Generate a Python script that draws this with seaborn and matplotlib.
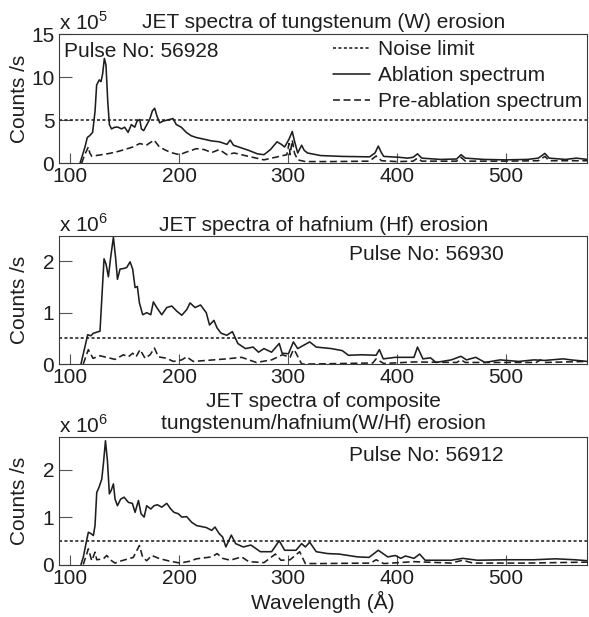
import matplotlib
matplotlib.use("Agg")
import matplotlib.pyplot as plt
import numpy as np
import pandas as pd
import seaborn as sns

# ---------------- data (wavelength in Angstrom, counts in panel units) ----------------
titles = [["JET spectra of tungstenum (W) erosion"],
          ["JET spectra of hafnium (Hf) erosion"],
          ["JET spectra of composite", "tungstenum/hafnium(W/Hf) erosion"]]
pulse_labels = ["Pulse No: 56928", "Pulse No: 56930", "Pulse No: 56912"]
scale_exponents = ["5", "6", "6"]
noise_limits = [5.0, 0.5, 0.5]
y_limits = [15.0, 2.5, 2.7]
y_ticks = [[0, 5, 10, 15], [0, 1, 2], [0, 1, 2]]
x_ticks = [100, 200, 300, 400, 500]
legend_labels = ["Noise limit", "Ablation spectrum", "Pre-ablation spectrum"]

# Panel 1: tungsten (x 1e5 counts/s)
w_abl_W = [109, 113.6, 115.7, 117.8, 120.6, 122.8, 124.3, 126.7, 128.3, 129.8, 131.4, 132.9, 134.5, 136,
           138, 141, 144, 147.1, 150, 153.2, 156.2, 159.3, 161.4, 163.9, 165.4, 167.5, 170, 173, 175.5,
           177.6, 179.7, 182.2, 185.2, 188.3, 191.3, 194.4, 197.5, 202, 206.6, 211.2, 215.8, 223, 230, 237,
           244, 247, 250, 264, 272, 278, 284, 290, 294, 297, 301, 304, 306, 309, 312.6, 315, 318, 330, 350,
           375, 380, 383, 386, 388, 402, 410, 415, 419, 423, 440, 455, 459, 463, 480, 500, 520, 530, 536,
           540, 555, 565, 575]
c_abl_W = [0, 1.9, 3.0, 3.2, 3.6, 6.0, 9.1, 9.7, 9.5, 10.4, 12.2, 11.4, 7.2, 4.5,
           4.0, 4.2, 4.2, 4.0, 4.2, 3.6, 4.5, 4.2, 4.9, 5.1, 4.0, 3.8, 4.4, 5.1, 6.1,
           6.4, 5.5, 4.7, 4.9, 5.0, 5.1, 5.2, 4.5, 4.2, 3.6, 3.2, 3.0, 2.8, 2.6, 2.5,
           2.2, 2.7, 2.1, 1.5, 1.1, 1.0, 1.6, 2.5, 2.2, 1.9, 2.8, 3.7, 2.6, 1.2, 2.1, 1.5, 1.2, 0.9, 0.8,
           0.75, 1.2, 2.0, 1.2, 0.8, 0.7, 0.6, 0.7, 1.1, 0.6, 0.45, 0.5, 1.0, 0.6, 0.45, 0.4, 0.45, 0.6, 1.15,
           0.6, 0.45, 0.6, 0.45]
w_pre_W = [110.5, 113, 116.7, 118, 119.8, 126.4, 134, 141.7, 150, 157.7, 163.9, 170, 177, 182, 188, 194,
           200.5, 206.6, 215.8, 223, 230, 237, 244, 250.6, 264, 278, 292, 299, 301, 302, 304, 306, 309,
           316, 340, 375, 381, 386, 400, 415, 419, 423, 455, 459, 463, 500, 530, 536, 540, 575]
c_pre_W = [0, 0.9, 1.9, 1.2, 0.83, 0.95, 1.1, 1.3, 1.6, 1.9, 2.3, 2.1, 2.7, 1.9, 1.5, 1.2,
           1.0, 1.3, 1.7, 1.6, 1.25, 1.6, 1.0, 1.2, 0.8, 0.4, 0.8, 1.0, 2.3, 1.0, 2.7, 1.2, 0.4,
           0.2, 0.2, 0.25, 0.85, 0.3, 0.2, 0.25, 0.6, 0.25, 0.25, 0.7, 0.25, 0.25, 0.3, 0.8, 0.3, 0.3]

# Panel 2: hafnium (x 1e6 counts/s)
w_abl_Hf = [109.9, 113.6, 116.1, 118.9, 121.3, 124.4, 127.4, 129, 131.1, 132.9, 135.1, 137.2, 139.7, 141.8,
            143.4, 145.8, 148.9, 151.9, 155, 157.4, 159.6, 161.7, 163.6, 166.6, 170.3, 174, 176.4, 179.5,
            184.1, 188.7, 193.3, 197.9, 202.5, 207.1, 210.1, 214.7, 219.7, 225, 228, 232, 235, 238.6,
            243.8, 249, 254, 261, 268, 273, 278, 285, 292, 294.7, 300.5, 305, 309, 314, 320, 326, 340,
            350, 355.6, 367.6, 381, 384, 387.6, 398.6, 415.8, 419, 424, 431, 436, 450, 459, 464, 472.5,
            481, 495, 512, 526, 536, 553, 560, 575]
c_abl_Hf = [0, 0.34, 0.57, 0.55, 0.60, 0.62, 0.64, 1.26, 2.05, 1.95, 1.70, 2.08, 2.47, 2.05,
            1.65, 1.85, 1.86, 1.88, 1.99, 1.85, 1.49, 1.51, 1.19, 0.96, 1.0, 0.96, 1.21, 1.1,
            0.96, 1.1, 1.13, 1.03, 0.95, 1.06, 1.19, 1.1, 1.15, 1.0, 0.76, 0.85, 0.7, 0.6,
            0.56, 0.63, 0.4, 0.3, 0.33, 0.23, 0.3, 0.23, 0.4, 0.21, 0.2, 0.43, 0.3, 0.36, 0.43, 0.33, 0.3,
            0.26, 0.17, 0.18, 0.17, 0.28, 0.1, 0.13, 0.13, 0.33, 0.1, 0.12, 0.03, 0.08, 0.15, 0.08, 0.13,
            0.03, 0.08, 0.05, 0.08, 0.07, 0.1, 0.08, 0.05]
w_pre_Hf = [112, 116.7, 121, 127.4, 133.5, 141.2, 148.9, 153.5, 157.4, 160.5, 164.2, 168.8, 173.4, 177.4,
            181, 188.7, 194.8, 202.5, 207, 213, 243.8, 257.5, 271, 285, 295, 302, 305, 307, 312.6, 322.9,
            378, 381, 388, 415.8, 455, 459, 463, 528, 532, 536, 575]
c_pre_Hf = [0, 0.28, 0.11, 0.16, 0.13, 0.09, 0.18, 0.14, 0.21, 0.14, 0.28, 0.11, 0.18, 0.31,
            0.14, 0.11, 0.05, 0.08, 0.14, 0.05, 0.1, 0.13, 0.03, 0.08, 0.18, 0.13, 0.28, 0.23, 0.0, 0.0,
            0.02, 0.1, 0.01, 0.04, 0.03, 0.08, 0.03, 0.03, 0.08, 0.03, 0.05]

# Panel 3: composite W/Hf (x 1e6 counts/s)
w_abl_WHf = [109.9, 112, 114.5, 116.7, 119.2, 121.3, 122.8, 124.4, 126.5, 129, 130.5, 132.4, 134.2, 136,
             137.6, 139.7, 141.2, 143.4, 146.4, 149.5, 153.5, 157.1, 159.6, 162.7, 165.1, 167.9, 170.3,
             174, 177, 180.1, 184.1, 188.7, 192.4, 195.4, 199.4, 202.5, 207, 211.6, 216.2, 225, 230, 233,
             236.9, 240, 243, 248, 252, 259, 266, 274.7, 285, 292, 297, 307.4, 312.6, 316, 320, 326,
             336.6, 347, 364, 374.5, 383, 391.7, 398.6, 403.7, 408, 415.8, 421, 426, 450, 460.5, 474,
             501.8, 526, 546, 563.7, 575]
c_abl_WHf = [0, 0.15, 0.44, 0.68, 0.65, 0.61, 0.82, 1.52, 1.63, 1.8, 2.12, 2.61, 2.19, 1.49,
             1.56, 1.7, 1.38, 1.24, 1.38, 1.42, 1.31, 1.29, 1.1, 1.35, 1.07, 1.0, 1.24,
             1.17, 1.24, 1.26, 1.21, 1.29, 1.17, 1.1, 1.07, 1.0, 1.01, 0.89, 0.82, 0.78, 0.72, 0.79,
             0.65, 0.58, 0.37, 0.62, 0.44, 0.37, 0.41, 0.27, 0.27, 0.5, 0.3, 0.3, 0.44, 0.37, 0.47, 0.27,
             0.23, 0.22, 0.16, 0.15, 0.3, 0.16, 0.19, 0.13, 0.18, 0.13, 0.22, 0.09, 0.09, 0.13, 0.09,
             0.1, 0.1, 0.12, 0.1, 0.08]
w_pre_WHf = [112, 116.7, 119.8, 122.8, 124.4, 130.5, 133.5, 138, 141.2, 147.3, 153.5, 158, 161.1, 163.6,
             166.6, 170.3, 174.9, 182.5, 191.7, 200.9, 210, 216, 230, 235, 240, 247, 257.5, 264, 278,
             288.5, 293.6, 302, 310.8, 316, 329.8, 376, 381, 388, 416, 450, 460.5, 470, 519, 575]
c_pre_WHf = [0, 0.33, 0.08, 0.26, 0.1, 0.12, 0.19, 0.08, 0.03, 0.08, 0.12, 0.15, 0.29, 0.4,
             0.15, 0.08, 0.19, 0.12, 0.07, 0.03, 0.07, 0.12, 0.16, 0.23, 0.13, 0.09, 0.16, 0.06, 0.04,
             0.22, 0.09, 0.1, 0.27, 0.02, 0.02, 0.03, 0.1, 0.02, 0.06, 0.03, 0.09, 0.03, 0.03, 0.05]

abl_w = [w_abl_W, w_abl_Hf, w_abl_WHf]
abl_c = [c_abl_W, c_abl_Hf, c_abl_WHf]
pre_w = [w_pre_W, w_pre_Hf, w_pre_WHf]
pre_c = [c_pre_W, c_pre_Hf, c_pre_WHf]

# ---------------- style ----------------
sns.set_style("ticks")
plt.rcParams["font.family"] = ["Liberation Sans", "DejaVu Sans"]
plt.rcParams["mathtext.fontset"] = "custom"
plt.rcParams["mathtext.rm"] = "Liberation Sans"
plt.rcParams["lines.scale_dashes"] = False

INK = "#1e1e1e"
FRAME = "#3a3a3a"
FS = 15
LW = 1.15
NOISE_DASH = (0, (2.2, 1.7))
PRE_DASH = (0, (5.0, 2.6))

W, H = 589, 617
fig = plt.figure(figsize=(W / 100, H / 100), dpi=100)

# axes boxes in pixels: left, top, right, bottom
boxes = [(59.3, 34.3, 587.3, 163.3), (59.3, 235.7, 587.3, 364.0), (59.3, 436.5, 587.3, 564.5)]
title_baselines = [[28.3], [230.7], [406.7, 429.3]]
exp_baselines = [30.0, 231.7, 432.7]
pulse_pos = [(64.3, 56.7), (349.3, 260.0), (349.3, 460.7)]

XMIN, XMAX = 90, 575

for i, (l, t, r, b) in enumerate(boxes):
    ax = fig.add_axes([l / W, 1 - b / H, (r - l) / W, (b - t) / H])
    df_abl = pd.DataFrame({"w": abl_w[i], "c": abl_c[i]})
    df_pre = pd.DataFrame({"w": pre_w[i], "c": pre_c[i]})
    noise = ax.axhline(noise_limits[i], color=INK, lw=LW, linestyle=NOISE_DASH, label=legend_labels[0])
    sns.lineplot(data=df_abl, x="w", y="c", ax=ax, sort=False, estimator=None,
                 color=INK, lw=LW, label=legend_labels[1], legend=False)
    sns.lineplot(data=df_pre, x="w", y="c", ax=ax, sort=False, estimator=None,
                 color=INK, lw=LW, linestyle=PRE_DASH, label=legend_labels[2], legend=False)

    ax.set_xlim(XMIN, XMAX)
    ax.set_ylim(0, y_limits[i])
    ax.set_xticks(x_ticks)
    ax.set_yticks(y_ticks[i])
    ax.tick_params(axis="x", direction="in", length=7.5, width=0.8, color="#555555",
                   labelsize=FS, labelcolor=INK, pad=3)
    ax.tick_params(axis="y", direction="in", length=9, width=0.8, color="#555555",
                   labelsize=FS, labelcolor=INK, pad=3.6)
    for s in ax.spines.values():
        s.set_visible(True)
        s.set_color(FRAME)
        s.set_linewidth(0.8)
    ax.set_xlabel("")
    ax.set_ylabel("Counts /s", fontsize=FS, color=INK)
    ax.yaxis.set_label_coords(-0.057, 0.5)

    for line_text, yb in zip(titles[i], title_baselines[i]):
        fig.text(323.3 / W, 1 - yb / H, line_text, ha="center", va="baseline", fontsize=FS, color=INK)
    fig.text(59.3 / W, 1 - exp_baselines[i] / H, r"x 10$^{\mathregular{%s}}$" % scale_exponents[i],
             ha="left", va="baseline", fontsize=FS, color=INK)
    px, py = pulse_pos[i]
    fig.text(px / W, 1 - py / H, pulse_labels[i], ha="left", va="baseline", fontsize=FS, color=INK)

    if i == 0:
        handles = ax.get_lines()
        h_noise = [h for h in handles if h.get_label() == legend_labels[0]][0]
        h_abl = [h for h in handles if h.get_label() == legend_labels[1]][0]
        h_pre = [h for h in handles if h.get_label() == legend_labels[2]][0]
        ax.legend(handles=[h_noise, h_abl, h_pre], labels=legend_labels, loc="upper left",
                  bbox_to_anchor=(0.518, 0.955), frameon=False, fontsize=FS,
                  handlelength=1.8, handletextpad=0.36, labelspacing=0.34, borderpad=0,
                  borderaxespad=0, labelcolor=INK)
    if i == 2:
        ax.set_xlabel("Wavelength (Å)", fontsize=FS, color=INK, labelpad=2)

fig.savefig("out.png", dpi=100)
